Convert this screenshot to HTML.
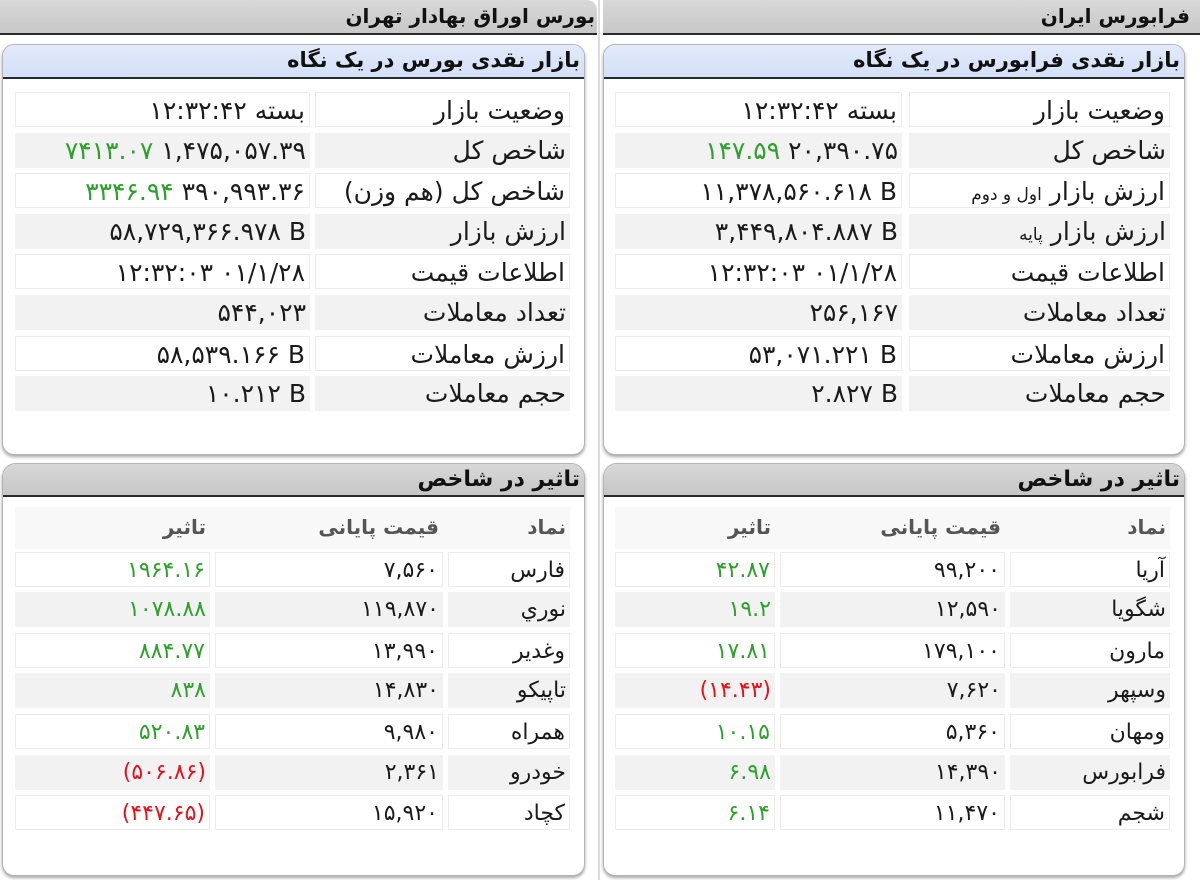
<!DOCTYPE html>
<html><head><meta charset="utf-8">
<style>
*{box-sizing:border-box;margin:0;padding:0}
body{width:1200px;height:880px;background:#fff;position:relative;overflow:hidden;font-family:"DejaVu Sans",sans-serif;color:#1a1a1a}
.hdr{position:absolute;top:0;height:35px;background:linear-gradient(#d8d8d8,#c8c8c8);border-bottom:2px solid #2a2a2a}
.vt{position:absolute;top:0;left:598px;width:2px;height:880px;background:#dcdcdc}
.card{position:absolute;background:#fff;border:1px solid #b5b5b5;border-radius:12px;box-shadow:0 2px 3px rgba(0,0,0,.35);overflow:hidden}
.blue{position:absolute;left:0;right:0;top:0;height:34px;background:linear-gradient(#e2eafb,#d3e0f7);border-bottom:2px solid #2a2a2a}
.gry{position:absolute;left:0;right:0;top:0;height:33px;background:linear-gradient(#d8d8d8,#c6c6c6);border-bottom:2px solid #2a2a2a}
.t{position:absolute;direction:rtl;text-align:right;white-space:nowrap;font-weight:bold;font-size:22px;line-height:33px;color:#111}
.c{position:absolute;height:35px;line-height:35px;direction:rtl;text-align:right;white-space:nowrap;font-size:25px;padding-right:4px;overflow:hidden}
.l .c{font-size:22px}
.w{background:#fff;border:1px solid #ececec}
.g{background:#f2f2f2}
.gr{color:#2ea02e}
.rd{color:#e5121c}
.h{position:absolute;height:42px;line-height:42px;direction:rtl;text-align:right;white-space:nowrap;font-size:20px;font-weight:bold;color:#555;padding-right:4px}
.hb{position:absolute;background:#f8f8f8}
small{font-size:17px}
</style></head><body>
<div class="vt"></div>
<div class="hdr" style="left:0;width:597px;border-top-right-radius:10px"></div>
<div class="hdr" style="left:603px;width:597px"></div>
<div class="t" style="right:605px;top:0;font-size:20px">بورس اوراق بهادار تهران</div>
<div class="t" style="right:10px;top:0;font-size:20px">فرابورس ایران</div>

<div class="card" style="left:2px;top:44px;width:583px;height:411px"><div class="blue"></div></div>
<div class="card" style="left:603px;top:44px;width:582px;height:411px"><div class="blue"></div></div>
<div class="t" style="right:620px;top:44px;font-size:21px">بازار نقدی بورس در یک نگاه</div>
<div class="t" style="right:20px;top:44px;font-size:21px">بازار نقدی فرابورس در یک نگاه</div>

<!-- top left rows -->
<div class="c w" style="left:315px;width:255px;top:92px">وضعیت بازار</div>
<div class="c w" style="left:15px;width:295px;top:92px">بسته <bdi dir="ltr">۱۲:۳۲:۴۲</bdi></div>
<div class="c g" style="left:315px;width:255px;top:133px">شاخص کل</div>
<div class="c g" style="left:15px;width:295px;top:133px"><bdi dir="ltr">۱,۴۷۵,۰۵۷.۳۹</bdi> <bdi dir="ltr" class="gr">۷۴۱۳.۰۷</bdi></div>
<div class="c w" style="left:315px;width:255px;top:173px">شاخص کل (هم وزن)</div>
<div class="c w" style="left:15px;width:295px;top:173px"><bdi dir="ltr">۳۹۰,۹۹۳.۳۶</bdi> <bdi dir="ltr" class="gr">۳۳۴۶.۹۴</bdi></div>
<div class="c g" style="left:315px;width:255px;top:214px">ارزش بازار</div>
<div class="c g" style="left:15px;width:295px;top:214px"><bdi dir="ltr">۵۸,۷۲۹,۳۶۶.۹۷۸ B</bdi></div>
<div class="c w" style="left:315px;width:255px;top:254px">اطلاعات قیمت</div>
<div class="c w" style="left:15px;width:295px;top:254px"><bdi dir="ltr">۰۱/۱/۲۸</bdi> <bdi dir="ltr">۱۲:۳۲:۰۳</bdi></div>
<div class="c g" style="left:315px;width:255px;top:295px">تعداد معاملات</div>
<div class="c g" style="left:15px;width:295px;top:295px"><bdi dir="ltr">۵۴۴,۰۲۳</bdi></div>
<div class="c w" style="left:315px;width:255px;top:336px">ارزش معاملات</div>
<div class="c w" style="left:15px;width:295px;top:336px"><bdi dir="ltr">۵۸,۵۳۹.۱۶۶ B</bdi></div>
<div class="c g" style="left:315px;width:255px;top:376px">حجم معاملات</div>
<div class="c g" style="left:15px;width:295px;top:376px"><bdi dir="ltr">۱۰.۲۱۲ B</bdi></div>

<!-- top right rows -->
<div class="c w" style="left:909px;width:261px;top:92px">وضعیت بازار</div>
<div class="c w" style="left:615px;width:287px;top:92px">بسته <bdi dir="ltr">۱۲:۳۲:۴۲</bdi></div>
<div class="c g" style="left:909px;width:261px;top:133px">شاخص کل</div>
<div class="c g" style="left:615px;width:287px;top:133px"><bdi dir="ltr">۲۰,۳۹۰.۷۵</bdi> <bdi dir="ltr" class="gr">۱۴۷.۵۹</bdi></div>
<div class="c w" style="left:909px;width:261px;top:173px">ارزش بازار <small>اول و دوم</small></div>
<div class="c w" style="left:615px;width:287px;top:173px"><bdi dir="ltr">۱۱,۳۷۸,۵۶۰.۶۱۸ B</bdi></div>
<div class="c g" style="left:909px;width:261px;top:214px">ارزش بازار <small>پایه</small></div>
<div class="c g" style="left:615px;width:287px;top:214px"><bdi dir="ltr">۳,۴۴۹,۸۰۴.۸۸۷ B</bdi></div>
<div class="c w" style="left:909px;width:261px;top:254px">اطلاعات قیمت</div>
<div class="c w" style="left:615px;width:287px;top:254px"><bdi dir="ltr">۰۱/۱/۲۸</bdi> <bdi dir="ltr">۱۲:۳۲:۰۳</bdi></div>
<div class="c g" style="left:909px;width:261px;top:295px">تعداد معاملات</div>
<div class="c g" style="left:615px;width:287px;top:295px"><bdi dir="ltr">۲۵۶,۱۶۷</bdi></div>
<div class="c w" style="left:909px;width:261px;top:336px">ارزش معاملات</div>
<div class="c w" style="left:615px;width:287px;top:336px"><bdi dir="ltr">۵۳,۰۷۱.۲۲۱ B</bdi></div>
<div class="c g" style="left:909px;width:261px;top:376px">حجم معاملات</div>
<div class="c g" style="left:615px;width:287px;top:376px"><bdi dir="ltr">۲.۸۲۷ B</bdi></div>

<!-- lower cards -->
<div class="card" style="left:2px;top:463px;width:583px;height:413px;border-radius:14px 14px 12px 12px"><div class="gry"></div></div>
<div class="card" style="left:603px;top:463px;width:582px;height:413px;border-radius:14px 14px 12px 12px"><div class="gry"></div></div>
<div class="t" style="right:620px;top:463px">تاثیر در شاخص</div>
<div class="t" style="right:20px;top:463px">تاثیر در شاخص</div>

<div class="hb" style="left:15px;width:555px;top:507px;height:42px"></div>
<div class="hb" style="left:615px;width:555px;top:507px;height:42px"></div>
<div class="h" style="left:452px;width:118px;top:506px">نماد</div>
<div class="h" style="left:215px;width:228px;top:506px">قیمت پایانی</div>
<div class="h" style="left:15px;width:195px;top:506px">تاثیر</div>
<div class="h" style="left:1010px;width:160px;top:506px">نماد</div>
<div class="h" style="left:780px;width:225px;top:506px">قیمت پایانی</div>
<div class="h" style="left:615px;width:160px;top:506px">تاثیر</div>

<div class="l">
<!-- lower left rows -->
<div class="c w" style="left:448px;width:122px;top:552px">فارس</div>
<div class="c w" style="left:215px;width:228px;top:552px"><bdi dir="ltr">۷,۵۶۰</bdi></div>
<div class="c w gr" style="left:15px;width:195px;top:552px"><bdi dir="ltr">۱۹۶۴.۱۶</bdi></div>
<div class="c g" style="left:448px;width:122px;top:592px">نوري</div>
<div class="c g" style="left:215px;width:228px;top:592px"><bdi dir="ltr">۱۱۹,۸۷۰</bdi></div>
<div class="c g gr" style="left:15px;width:195px;top:592px"><bdi dir="ltr">۱۰۷۸.۸۸</bdi></div>
<div class="c w" style="left:448px;width:122px;top:633px">وغدیر</div>
<div class="c w" style="left:215px;width:228px;top:633px"><bdi dir="ltr">۱۳,۹۹۰</bdi></div>
<div class="c w gr" style="left:15px;width:195px;top:633px"><bdi dir="ltr">۸۸۴.۷۷</bdi></div>
<div class="c g" style="left:448px;width:122px;top:673px">تاپیکو</div>
<div class="c g" style="left:215px;width:228px;top:673px"><bdi dir="ltr">۱۴,۸۳۰</bdi></div>
<div class="c g gr" style="left:15px;width:195px;top:673px"><bdi dir="ltr">۸۳۸</bdi></div>
<div class="c w" style="left:448px;width:122px;top:714px">همراه</div>
<div class="c w" style="left:215px;width:228px;top:714px"><bdi dir="ltr">۹,۹۸۰</bdi></div>
<div class="c w gr" style="left:15px;width:195px;top:714px"><bdi dir="ltr">۵۲۰.۸۳</bdi></div>
<div class="c g" style="left:448px;width:122px;top:755px">خودرو</div>
<div class="c g" style="left:215px;width:228px;top:755px"><bdi dir="ltr">۲,۳۶۱</bdi></div>
<div class="c g rd" style="left:15px;width:195px;top:755px"><bdi dir="ltr">(۵۰۶.۸۶)</bdi></div>
<div class="c w" style="left:448px;width:122px;top:795px">کچاد</div>
<div class="c w" style="left:215px;width:228px;top:795px"><bdi dir="ltr">۱۵,۹۲۰</bdi></div>
<div class="c w rd" style="left:15px;width:195px;top:795px"><bdi dir="ltr">(۴۴۷.۶۵)</bdi></div>

<!-- lower right rows -->
<div class="c w" style="left:1010px;width:160px;top:552px">آریا</div>
<div class="c w" style="left:780px;width:225px;top:552px"><bdi dir="ltr">۹۹,۲۰۰</bdi></div>
<div class="c w gr" style="left:615px;width:160px;top:552px"><bdi dir="ltr">۴۲.۸۷</bdi></div>
<div class="c g" style="left:1010px;width:160px;top:592px">شگویا</div>
<div class="c g" style="left:780px;width:225px;top:592px"><bdi dir="ltr">۱۲,۵۹۰</bdi></div>
<div class="c g gr" style="left:615px;width:160px;top:592px"><bdi dir="ltr">۱۹.۲</bdi></div>
<div class="c w" style="left:1010px;width:160px;top:633px">مارون</div>
<div class="c w" style="left:780px;width:225px;top:633px"><bdi dir="ltr">۱۷۹,۱۰۰</bdi></div>
<div class="c w gr" style="left:615px;width:160px;top:633px"><bdi dir="ltr">۱۷.۸۱</bdi></div>
<div class="c g" style="left:1010px;width:160px;top:673px">وسپهر</div>
<div class="c g" style="left:780px;width:225px;top:673px"><bdi dir="ltr">۷,۶۲۰</bdi></div>
<div class="c g rd" style="left:615px;width:160px;top:673px"><bdi dir="ltr">(۱۴.۴۳)</bdi></div>
<div class="c w" style="left:1010px;width:160px;top:714px">ومهان</div>
<div class="c w" style="left:780px;width:225px;top:714px"><bdi dir="ltr">۵,۳۶۰</bdi></div>
<div class="c w gr" style="left:615px;width:160px;top:714px"><bdi dir="ltr">۱۰.۱۵</bdi></div>
<div class="c g" style="left:1010px;width:160px;top:755px">فرابورس</div>
<div class="c g" style="left:780px;width:225px;top:755px"><bdi dir="ltr">۱۴,۳۹۰</bdi></div>
<div class="c g gr" style="left:615px;width:160px;top:755px"><bdi dir="ltr">۶.۹۸</bdi></div>
<div class="c w" style="left:1010px;width:160px;top:795px">شجم</div>
<div class="c w" style="left:780px;width:225px;top:795px"><bdi dir="ltr">۱۱,۴۷۰</bdi></div>
<div class="c w gr" style="left:615px;width:160px;top:795px"><bdi dir="ltr">۶.۱۴</bdi></div>
</div>
</body></html>
